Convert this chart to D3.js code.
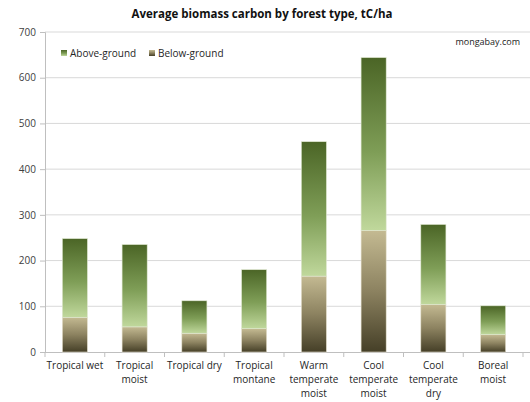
<!DOCTYPE html>
<html>
<head>
<meta charset="utf-8">
<script src="https://cdn.jsdelivr.net/npm/d3@7"></script>
<style>
  html, body { margin: 0; padding: 0; background: #fff; }
  svg { display: block; font-family: "Open Sans", "Liberation Sans", sans-serif; }
</style>
</head>
<body>
<svg id="chart" width="530" height="402"></svg>
<script>
// Average biomass carbon by forest type (tC/ha), split into below- and above-ground
const categories = [
  ["Tropical wet"],
  ["Tropical", "moist"],
  ["Tropical dry"],
  ["Tropical", "montane"],
  ["Warm", "temperate", "moist"],
  ["Cool", "temperate", "moist"],
  ["Cool", "temperate", "dry"],
  ["Boreal", "moist"]
];
const belowGround = [76, 55, 41, 51, 166, 266, 104, 38];
const aboveGround = [172, 180, 71, 129, 294, 378, 175, 63];
const yTicks = [0, 100, 200, 300, 400, 500, 600, 700];
const seriesNames = ["Above-ground", "Below-ground"];

const svg = d3.select("#chart");
const margin = { left: 45, right: 5, top: 32, bottom: 50 };
const W = 530, H = 402;
const x0 = margin.left, x1 = W - margin.right;
const yTop = margin.top, yBot = H - margin.bottom;

const x = d3.scaleBand()
  .domain(d3.range(categories.length))
  .range([x0, x1 - 2])
  .paddingInner(0.58)
  .paddingOuter(0.29);
const y = d3.scaleLinear().domain([0, 700]).range([yBot, yTop]);

// Gradients for the two series
const defs = svg.append("defs");
const gAbove = defs.append("linearGradient").attr("id", "gradAbove")
  .attr("x1", 0).attr("y1", 0).attr("x2", 0).attr("y2", 1);
gAbove.append("stop").attr("offset", "0%").attr("stop-color", "#4b6526");
gAbove.append("stop").attr("offset", "55%").attr("stop-color", "#7f9e57");
gAbove.append("stop").attr("offset", "100%").attr("stop-color", "#c0d89c");
const gBelow = defs.append("linearGradient").attr("id", "gradBelow")
  .attr("x1", 0).attr("y1", 0).attr("x2", 0).attr("y2", 1);
gBelow.append("stop").attr("offset", "0%").attr("stop-color", "#c4ba92");
gBelow.append("stop").attr("offset", "50%").attr("stop-color", "#8c8260");
gBelow.append("stop").attr("offset", "100%").attr("stop-color", "#453f27");

// Gridlines
svg.append("g").selectAll("line")
  .data(yTicks.filter(d => d > 0))
  .join("line")
  .attr("x1", x0).attr("x2", W)
  .attr("y1", d => y(d)).attr("y2", d => y(d))
  .attr("stroke", "#d9d9d9").attr("stroke-width", 1);

// Y axis
const yAxis = svg.append("g")
  .attr("transform", `translate(${x0},0)`)
  .call(d3.axisLeft(y).tickValues(yTicks).tickSize(5).tickPadding(4));
yAxis.select(".domain").attr("stroke", "#bfbfbf");
yAxis.selectAll(".tick line").attr("stroke", "#bfbfbf");
yAxis.selectAll(".tick text")
  .attr("fill", "#404040").attr("font-size", 10)
  .attr("font-family", "'Open Sans', sans-serif");

// X axis baseline and category separators
const xAxis = svg.append("g");
xAxis.append("line")
  .attr("x1", x0).attr("x2", W).attr("y1", yBot + 0.5).attr("y2", yBot + 0.5)
  .attr("stroke", "#bfbfbf");
const step = x.step();
xAxis.selectAll("line.sep")
  .data(d3.range(categories.length + 1))
  .join("line").attr("class", "sep")
  .attr("x1", i => x(0) - x.paddingOuter() * step + i * step)
  .attr("x2", i => x(0) - x.paddingOuter() * step + i * step)
  .attr("y1", yBot).attr("y2", yBot + 5)
  .attr("stroke", "#bfbfbf");

// Category labels
const labels = svg.append("g");
categories.forEach((lines, i) => {
  const t = labels.append("text")
    .attr("x", x(i) + x.bandwidth() / 2)
    .attr("y", yBot + 17)
    .attr("text-anchor", "middle")
    .attr("font-size", 10)
    .attr("fill", "#262626");
  lines.forEach((ln, j) => {
    t.append("tspan").attr("x", x(i) + x.bandwidth() / 2)
      .attr("dy", j === 0 ? 0 : 14).text(ln);
  });
});

// Stacked bars
const bars = svg.append("g");
categories.forEach((_, i) => {
  const b = belowGround[i], a = aboveGround[i];
  bars.append("rect")
    .attr("x", x(i)).attr("width", x.bandwidth())
    .attr("y", y(b)).attr("height", y(0) - y(b))
    .attr("fill", "url(#gradBelow)")
    .attr("stroke", "#e6e2cf").attr("stroke-width", 0.6);
  bars.append("rect")
    .attr("x", x(i)).attr("width", x.bandwidth())
    .attr("y", y(b + a)).attr("height", y(b) - y(b + a))
    .attr("fill", "url(#gradAbove)")
    .attr("stroke", "#dfe8d0").attr("stroke-width", 0.6);
});

// Title
svg.append("text")
  .attr("x", 262).attr("y", 18)
  .attr("text-anchor", "middle")
  .attr("font-size", 11.5).attr("font-weight", "bold")
  .attr("fill", "#111")
  .text("Average biomass carbon by forest type, tC/ha");

// Source note
svg.append("text")
  .attr("x", 520).attr("y", 45)
  .attr("text-anchor", "end")
  .attr("font-size", 9).attr("fill", "#222")
  .text("mongabay.com");

// Legend
const legend = svg.append("g");
const legendX = [61, 149];
const legendFill = ["url(#gradAbove)", "url(#gradBelow)"];
seriesNames.forEach((name, i) => {
  legend.append("rect")
    .attr("x", legendX[i]).attr("y", 50).attr("width", 6).attr("height", 6)
    .attr("fill", legendFill[i]);
  legend.append("text")
    .attr("x", legendX[i] + 9).attr("y", 57)
    .attr("font-size", 10).attr("fill", "#262626")
    .text(name);
});
</script>
</body>
</html>
